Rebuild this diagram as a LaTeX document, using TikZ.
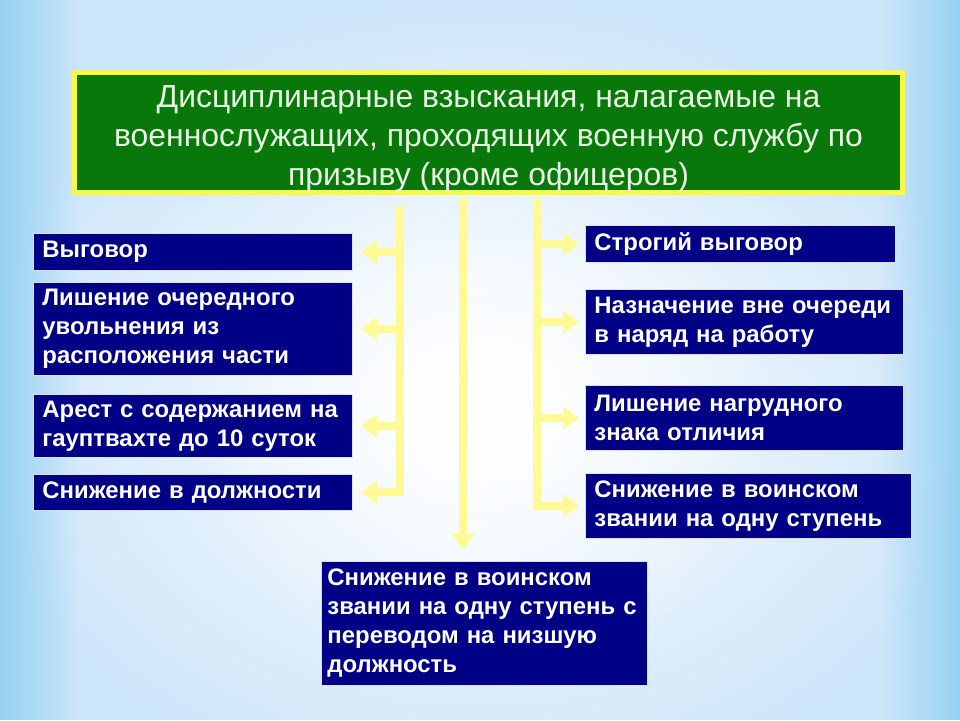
\documentclass[tikz,border=0pt]{standalone}
\usepackage{fontspec}
\setmainfont{Liberation Sans}
\usetikzlibrary{arrows.meta,fadings}

\definecolor{paleblue}{RGB}{206,230,250}
\definecolor{edgeblue}{RGB}{150,210,242}
\definecolor{navybox}{RGB}{0,0,135}
\definecolor{titlegreen}{RGB}{8,120,10}
\definecolor{rimyellow}{RGB}{250,250,70}
\definecolor{feedyellow}{RGB}{255,250,150}
\definecolor{titletext}{RGB}{232,245,226}

\tikzfading[name=glow, inner color=transparent!0, outer color=transparent!100]
\tikzfading[name=leftedge, left color=transparent!0, right color=transparent!100]
\tikzfading[name=rightedge, left color=transparent!100, right color=transparent!0]

\tikzset{
  penalty/.style={draw=white!75!gray, line width=0.6pt, fill=navybox, text=white,
    font=\bfseries\fontsize{17}{20.6}\selectfont, anchor=north west, align=left,
    inner xsep=0.225cm, inner ysep=0.05cm},
  feed/.style={feedyellow, line width=0.2cm, line cap=rect},
  feedarrow/.style={feed, -{Triangle[width=0.55cm,length=0.4cm]}, shorten >=0.2cm},
}

\begin{document}
\begin{tikzpicture}
%\draw[step=1cm,gray,very thin] (0,0) grid (24,18); %background grid
\useasboundingbox (0,0) rectangle (24,18);
\fill[paleblue] (0,0) rectangle (24,18);
\fill[white,path fading=glow] (12,8) ellipse (13cm and 10cm); %soft light
\fill[white,path fading=glow,fill opacity=0.8] (12,7.5) ellipse (7.5cm and 7cm); %centre
\fill[edgeblue,path fading=leftedge] (0,0) rectangle (2,18); %left edge
\fill[edgeblue,path fading=rightedge] (22,0) rectangle (24,18); %right edge

%title%%%%%%%%%%%%%%%%%%%%%%%%%%%%%%%%%%%%%%%%%%%%%%%%%%%%%%%%%%%%%%%%

\node[draw=rimyellow, line width=0.125cm, fill=titlegreen, text=titletext,
  minimum width=20.7cm, minimum height=3.0cm, inner ysep=0pt, align=center,
  font=\fontsize{22.7}{27.6}\selectfont] (title) at (12.2125,14.6875)
  {\rule{0pt}{0.86cm}Дисциплинарные взыскания, налагаемые на\\военнослужащих, проходящих военную службу по\\призыву (кроме офицеров)};

%left column%%%%%%%%%%%%%%%%%%%%%%%%%%%%%%%%%%%%%%%%%%%%%%%%%%%%%%%%%%

\node[penalty, text width=7.525cm, minimum height=0.925cm] (vygovor) at (0.825,12.175) {Выговор};
\node[penalty, text width=7.525cm, minimum height=2.325cm] (uvoln) at (0.825,10.95) {Лишение очередного\\увольнения из\\расположения части};
\node[penalty, text width=7.525cm, minimum height=1.575cm] (arest) at (0.825,8.15) {Арест с содержанием на\\гауптвахте до 10 суток};
\node[penalty, text width=7.525cm, minimum height=0.9cm] (dolzh) at (0.825,6.15) {Снижение в должности};

%right column%%%%%%%%%%%%%%%%%%%%%%%%%%%%%%%%%%%%%%%%%%%%%%%%%%%%%%%%%

\node[penalty, text width=7.3cm, minimum height=0.925cm] (strogiy) at (14.625,12.375) {Строгий выговор};
\node[penalty, text width=7.5cm, minimum height=1.625cm] (naryad) at (14.625,10.775) {Назначение вне очереди\\в наряд на работу};
\node[penalty, text width=7.5cm, minimum height=1.625cm] (znak) at (14.625,8.375) {Лишение нагрудного\\знака отличия};
\node[penalty, text width=7.7cm, minimum height=1.625cm] (zvanie) at (14.625,6.175) {Снижение в воинском\\звании на одну ступень};

%bottom%%%%%%%%%%%%%%%%%%%%%%%%%%%%%%%%%%%%%%%%%%%%%%%%%%%%%%%%%%%%%%%

\node[penalty, inner xsep=0.15cm, text width=7.85cm, minimum height=3.1cm] (perevod) at (8.025,3.975) {Снижение в воинском\\звании на одну ступень с\\переводом на низшую\\должность};

%arrows%%%%%%%%%%%%%%%%%%%%%%%%%%%%%%%%%%%%%%%%%%%%%%%%%%%%%%%%%%%%%%%

\coordinate (ltop) at (10.0,12.75);
\coordinate (ctop) at (11.575,12.95);
\coordinate (rtop) at (13.425,12.95);

\draw[feed] (ltop) -- (dolzh.east -| ltop); %left trunk
\draw[feedarrow] (vygovor.east -| ltop) -- (vygovor.east);
\draw[feedarrow] (uvoln.east -| ltop) -- (uvoln.east);
\draw[feedarrow] (arest.east -| ltop) -- (arest.east);
\draw[feedarrow] (dolzh.east -| ltop) -- (dolzh.east);

\draw[feedarrow, shorten >=0.28cm] (ctop) -- (perevod.north -| ctop); %middle

\draw[feed] (rtop) -- (zvanie.west -| rtop); %right trunk
\draw[feedarrow, shorten >=0.15cm] (strogiy.west -| rtop) -- (strogiy.west);
\draw[feedarrow, shorten >=0.15cm] (naryad.west -| rtop) -- (naryad.west);
\draw[feedarrow, shorten >=0.15cm] (znak.west -| rtop) -- (znak.west);
\draw[feedarrow, shorten >=0.15cm] (zvanie.west -| rtop) -- (zvanie.west);

\end{tikzpicture}
\end{document}
